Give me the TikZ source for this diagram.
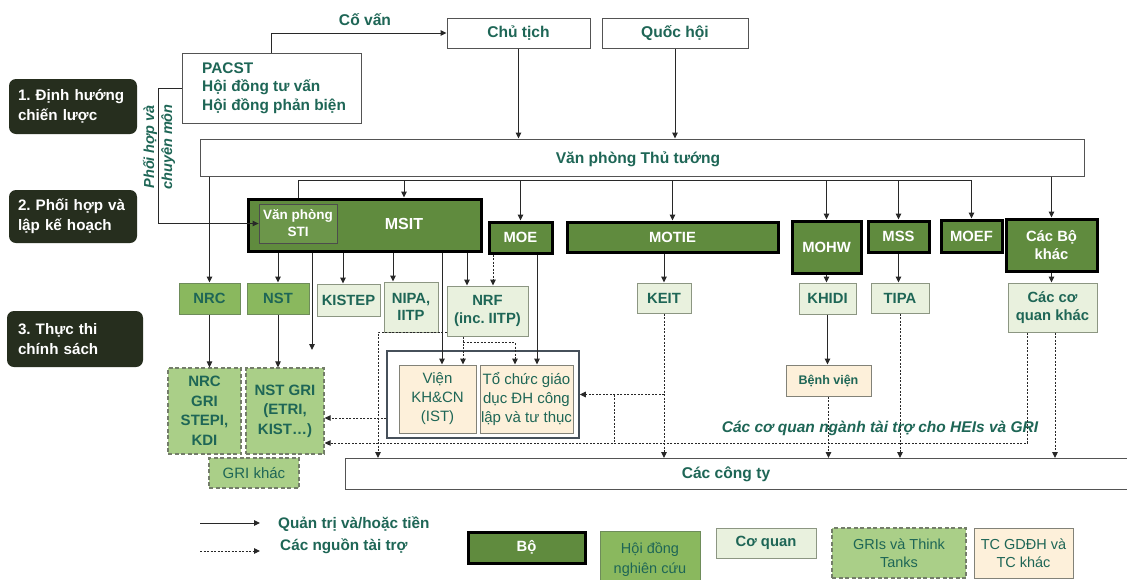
\documentclass[tikz,border=0pt]{standalone}
\usepackage{fontspec}
\setmainfont{Liberation Sans}
\usetikzlibrary{arrows.meta,calc}
\frenchspacing
\definecolor{teal2}{RGB}{30,102,86}
\definecolor{bofill}{RGB}{96,139,62}
\definecolor{stifill}{RGB}{108,150,74}
\definecolor{councilfill}{RGB}{138,184,94}
\definecolor{councilbd}{RGB}{110,140,90}
\definecolor{agencyfill}{RGB}{233,241,222}
\definecolor{agencybd}{RGB}{140,150,130}
\definecolor{grifill}{RGB}{170,207,136}
\definecolor{gribd}{RGB}{115,125,105}
\definecolor{tcfill}{RGB}{253,240,218}
\definecolor{tcbd}{RGB}{130,130,120}
\definecolor{stagefill}{RGB}{38,46,30}
\definecolor{framecol}{RGB}{70,80,90}
\definecolor{linecol}{RGB}{40,40,40}
\begin{document}
\begin{tikzpicture}[x=1pt,y=-1pt,
  base/.style={inner sep=1pt, align=center, text=teal2, font=\bfseries\fontsize{14.8}{17.5}\selectfont},
  big/.style={font=\bfseries\fontsize{15.6}{18}\selectfont},
  plain/.style={base, draw=linecol!80, line width=1pt, fill=white},
  bo/.style={base, draw=black, line width=3pt, fill=bofill, text=white, font=\bfseries\fontsize{14.8}{18.5}\selectfont},
  stibox/.style={base, draw=black!70, line width=0.8pt, fill=stifill, text=white, font=\bfseries\fontsize{13.5}{17}\selectfont},
  council/.style={base, draw=councilbd, line width=1pt, fill=councilfill},
  agency/.style={base, draw=agencybd, line width=1pt, fill=agencyfill},
  gri/.style={base, draw=gribd, line width=1.2pt, dash pattern=on 4pt off 2.5pt, fill=grifill, font=\bfseries\fontsize{15}{19.5}\selectfont},
  tc/.style={base, draw=tcbd, line width=1pt, fill=tcfill, font=\fontsize{15}{19}\selectfont},
  stage/.style={base, rounded corners=7pt, fill=stagefill, text=white, align=left, font=\bfseries\fontsize{15.2}{20}\selectfont},
  arr/.style={draw=linecol, line width=1pt, -{Triangle[length=6pt,width=5.5pt]}},
  darr/.style={arr, dash pattern=on 2pt off 1.5pt},
  dline/.style={draw=linecol, line width=1pt, dash pattern=on 2pt off 1.5pt},
  sline/.style={draw=linecol, line width=1pt}]
\useasboundingbox (0,0) rectangle (1127,579);
\fill[white] (0,0) rectangle (1127,579);

% stage labels
\node[stage, minimum width=128, minimum height=55, text width=110] (s1) at (73,106.5) {1. Định hướng\\chiến lược};
\node[stage, minimum width=128, minimum height=53, text width=110] (s2) at (73,216.5) {2. Phối hợp và\\lập kế hoạch};
\node[stage, minimum width=136, minimum height=56, text width=114] (s3) at (75,339) {3. Thực thi\\chính sách};

% top
\node[base, big] (covan) at (365,20) {Cố vấn};
\node[plain, big, minimum width=143, minimum height=30] (chutich) at (518.5,33) {Chủ tịch};
\node[plain, big, minimum width=146, minimum height=30] (quochoi) at (675,33) {Quốc hội};
\node[plain, minimum width=179, minimum height=70] (pacst) at (271.5,88) {};
\node[base, align=left, anchor=west, font=\bfseries\fontsize{15.4}{18.5}\selectfont] (pacsttxt) at (201,88) {PACST\\Hội đồng tư vấn\\Hội đồng phản biện};
\node[base, rotate=90, font=\bfseries\itshape\fontsize{14.5}{18}\selectfont] (phtxt) at (159,147) {Phối hợp và\\chuyên môn};
\node[plain, minimum width=884, minimum height=37] (vptt) at (642,157.5) {};
\node[base, big] (vptttxt) at (638,159) {Văn phòng Thủ tướng};

% ministries
\node[bo, minimum width=233, minimum height=52] (msit) at (364.5,225) {};
\node[base, text=white, font=\bfseries\fontsize{16}{18}\selectfont] (msitlbl) at (404,224) {MSIT};
\node[stibox, minimum width=78, minimum height=39] (sti) at (298,223.5) {Văn phòng\\STI};
\node[bo, minimum width=63, minimum height=31] (moe) at (520.5,237.5) {MOE};
\node[bo, minimum width=211, minimum height=30] (motie) at (672.5,237) {MOTIE};
\node[bo, minimum width=69, minimum height=52] (mohw) at (826.5,247) {MOHW};
\node[bo, minimum width=61, minimum height=31] (mss) at (898.5,236.5) {MSS};
\node[bo, minimum width=61, minimum height=32] (moef) at (971.5,236) {MOEF};
\node[bo, minimum width=91, minimum height=52] (cacbo) at (1051.5,245) {Các Bộ\\khác};

% level 3
\node[council, minimum width=61, minimum height=31] (nrc) at (209.5,298.5) {NRC};
\node[council, minimum width=62, minimum height=31] (nst) at (278,298.5) {NST};
\node[agency, minimum width=63, minimum height=32] (kistep) at (348.5,300) {KISTEP};
\node[agency, minimum width=54, minimum height=50] (nipa) at (411,307) {NIPA,\\IITP};
\node[agency, minimum width=81, minimum height=50] (nrf) at (487.5,311) {NRF\\(inc. IITP)};
\node[agency, minimum width=54, minimum height=30] (keit) at (664,298) {KEIT};
\node[agency, minimum width=57, minimum height=31] (khidi) at (827.5,298.5) {KHIDI};
\node[agency, minimum width=58, minimum height=30] (tipa) at (900,298) {TIPA};
\node[agency, minimum width=89, minimum height=49] (cackhac) at (1052.5,307.5) {Các cơ\\quan khác};
\node[tc, minimum width=85, minimum height=31, font=\bfseries\fontsize{12.5}{15}\selectfont] (benhvien) at (828.5,380.5) {Bệnh viện};

% GRIs
\node[gri, minimum width=73, minimum height=86] (nrcgri) at (204.5,411) {NRC\\GRI\\STEPI,\\KDI};
\node[gri, minimum width=78, minimum height=86] (nstgri) at (285,411) {NST GRI\\(ETRI,\\KIST…)};
\node[gri, minimum width=90, minimum height=30, font=\fontsize{15}{18}\selectfont] (grikhac) at (254,473) {GRI khác};

% HEIs frame
\node[draw=framecol, line width=1.5pt, fill=white, minimum width=192, minimum height=87] (frame) at (483,394.5) {};
\node[tc, minimum width=77, minimum height=68] (ist) at (437.5,399) {Viện\\KH\&CN\\(IST)};
\node[tc, minimum width=93, minimum height=68, inner sep=0pt] (tochuc) at (526.5,399) {Tổ chức giáo\\dục ĐH công\\lập và tư thục};

% companies
\node[plain, minimum width=790, minimum height=31, anchor=north west] (ct) at (345,458) {};
\node[base, big] (cttxt) at (726,474) {Các công ty};
\node[base, font=\bfseries\itshape\fontsize{15.5}{18}\selectfont] (fundtxt) at (880,428) {Các cơ quan ngành tài trợ cho HEIs và GRI};

% ---- connectors ----
\draw[arr] (pacst.north) |- (chutich.west);
\draw[arr] (chutich.south) -- (chutich.south |- vptt.north);
\draw[arr] (quochoi.south) -- (quochoi.south |- vptt.north);
\coordinate (ph) at (158,223.5);
\draw[arr] (pacst.west) -| (ph) -- (sti.west);

\coordinate (busL) at (298,180);
\coordinate (busR) at (972,180);
\draw[sline] (busL) -- (busR);
\draw[sline] (busL) -- (busL |- msit.north);
\draw[arr] (msitlbl |- busL) -- (msitlbl |- msit.north);
\draw[arr] (moe.north |- busL) -- (moe.north);
\draw[arr] (motie.north |- busL) -- (motie.north);
\draw[arr] (mohw.north |- busL) -- (mohw.north);
\draw[arr] (mss.north |- busL) -- (mss.north);
\draw[arr] (moef.north |- busL) -- (moef.north);
\draw[arr] (nrc.north |- vptt.south) -- (nrc.north);
\draw[arr] (cacbo.north |- vptt.south) -- (cacbo.north);

% MSIT children
\draw[arr] (nst.north |- msit.south) -- (nst.north);
\coordinate (msitfree) at (312,350);
\draw[arr] (msitfree |- msit.south) -- (msitfree);
\coordinate (kisA) at ([xshift=-5.5pt]kistep.north);
\draw[arr] (kisA |- msit.south) -- (kisA);
\coordinate (nipaA) at ([xshift=-18pt]nipa.north);
\draw[arr] (nipaA |- msit.south) -- (nipaA);
\coordinate (nrfA) at ([xshift=-20.5pt]nrf.north);
\draw[arr] (nrfA |- msit.south) -- (nrfA);
\coordinate (istA) at ([xshift=4.5pt]ist.north);
\draw[arr] (istA |- msit.south) -- (istA);

% MOE children
\coordinate (moeD) at ([xshift=-27.5pt]moe.south);
\draw[darr] (moeD) -- (moeD |- nrf.north);
\coordinate (moeS) at ([xshift=16.5pt]moe.south);
\draw[arr] (moeS) -- (moeS |- tochuc.north);

% NRF funding
\coordinate (nrfD) at ([xshift=-24.5pt]nrf.south);
\draw[darr] (nrfD) -- (nrfD |- ist.north);
\coordinate (nrfB) at ([yshift=-6pt]nrfD);
\coordinate (tcA) at ([xshift=-11.5pt]tochuc.north);
\draw[darr] (nrfB) -| (tcA);
\coordinate (nrfL) at ([yshift=-21pt]nrf.west);
\coordinate (ctA) at ([xshift=33pt]ct.north west);
\draw[darr] (nrfL) -| (ctA);

% to GRIs
\draw[arr] (nrc.south) -- (nrc.south |- nrcgri.north);
\draw[arr] (nst.south) -- (nst.south |- nstgri.north);
\coordinate (frL) at ([yshift=-23.5pt]frame.west);
\draw[darr] (frL) -- (frL -| nstgri.east);
\coordinate (ckD) at ([xshift=-25.5pt]cackhac.south);
\coordinate (ngL) at ([yshift=-32pt]nstgri.east);
\draw[darr] (ckD) |- (ngL);

% other ministries
\draw[arr] (keit.north |- motie.south) -- (keit.north);
\draw[arr] (mohw.south) -- (mohw.south |- khidi.north);
\draw[arr] (mss.south) -- (mss.south |- tipa.north);
\draw[arr] (cacbo.south) -- (cacbo.south |- cackhac.north);
\draw[darr] (keit.south) -- (keit.south |- ct.north);
\draw[darr] (keit.south |- frame.east) -- (frame.east);
\coordinate (kj) at ([xshift=35pt]frame.east);
\draw[dline] (kj) -- (kj |- ngL);
\draw[arr] (khidi.south) -- (khidi.south |- benhvien.north);
\draw[darr] (benhvien.south) -- (benhvien.south |- ct.north);
\draw[darr] (tipa.south) -- (tipa.south |- ct.north);
\coordinate (ckE) at ([xshift=2.5pt]cackhac.south);
\draw[darr] (ckE) -- (ckE |- ct.north);

% legend
\coordinate (l1a) at (200,523);
\coordinate (l1b) at (260,523);
\draw[arr] (l1a) -- (l1b);
\node[base, anchor=west, font=\bfseries\fontsize{15.3}{18}\selectfont] (lg1) at (277,524) {Quản trị và/hoặc tiền};
\coordinate (l2a) at (200,551);
\coordinate (l2b) at (260,551);
\draw[darr] (l2a) -- (l2b);
\node[base, anchor=west, font=\bfseries\fontsize{15.3}{18}\selectfont] (lg2) at (279,546) {Các nguồn tài trợ};
\node[bo, minimum width=117, minimum height=31] (lgbo) at (526.5,547.5) {Bộ};
\node[council, minimum width=100, minimum height=56, font=\fontsize{14.5}{20}\selectfont] (lgcouncil) at (650,559) {Hội đồng\\nghiên cứu};
\node[agency, minimum width=100, minimum height=30] (lgagency) at (766,543) {Cơ quan};
\node[gri, minimum width=134, minimum height=50, font=\fontsize{14.5}{18}\selectfont] (lggri) at (899,553) {GRIs và Think\\Tanks};
\node[tc, minimum width=99, minimum height=50, font=\fontsize{14.5}{18}\selectfont] (lgtc) at (1023.5,553) {TC GDĐH và\\TC khác};
\end{tikzpicture}
\end{document}
